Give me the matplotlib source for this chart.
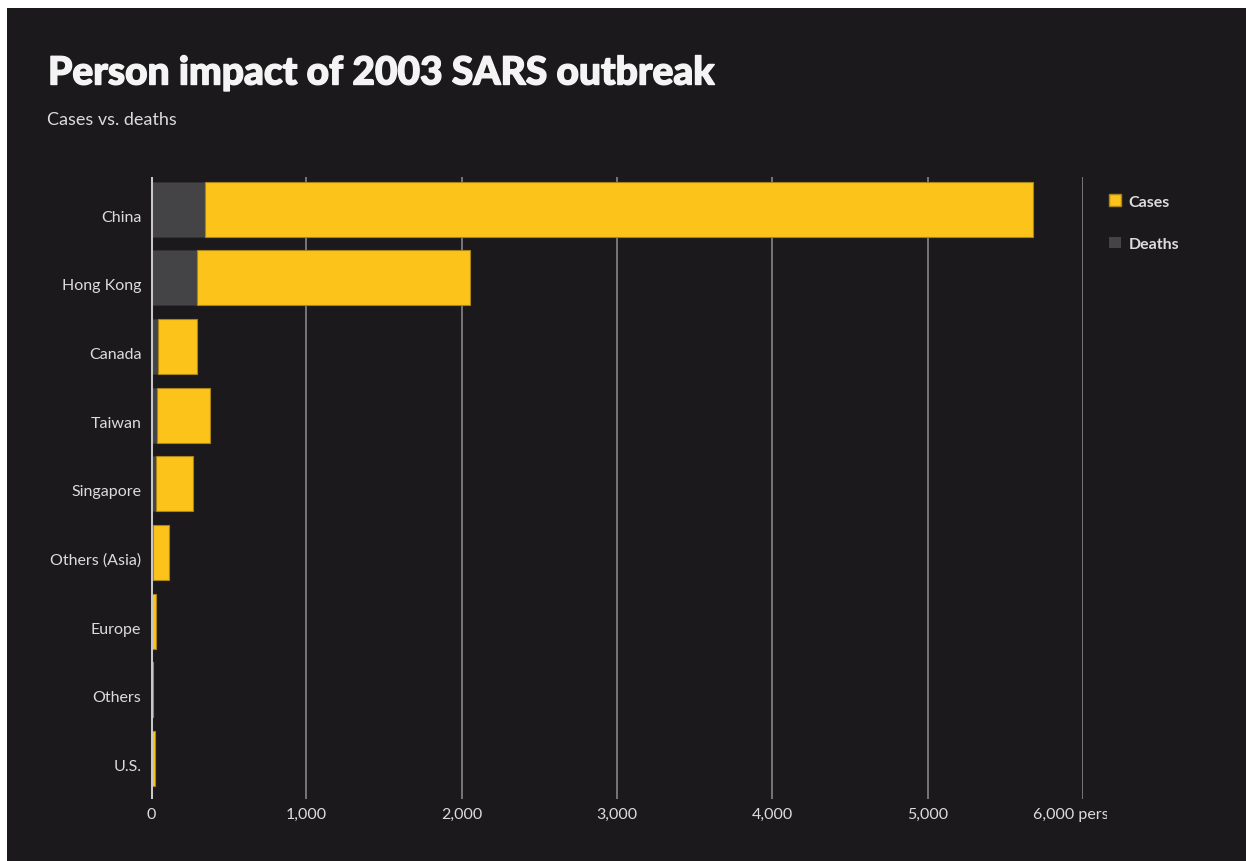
import matplotlib
matplotlib.use("Agg")
import matplotlib.pyplot as plt
import matplotlib.patheffects as pe
from matplotlib.patches import Rectangle, Patch
from matplotlib.transforms import Bbox, TransformedBbox, ScaledTranslation
import numpy as np

# SARS 2003, cumulative figures per region
regioes = ["China", "Hong Kong", "Canada", "Taiwan", "Singapore",
           "Others (Asia)", "Europe", "Others", "U.S."]
casos = [5327, 1755, 251, 346, 238, 106, 33, 9, 27]
mortes = [349, 299, 43, 37, 33, 10, 1, 1, 0]
ticks_x = [0, 1000, 2000, 3000, 4000, 5000, 6000]
rotulos_x = ["0", "1,000", "2,000", "3,000", "4,000", "5,000", "6,000 persons"]

fundo = "#1b191c"
amarelo = "#fcc31b"
cinza_mortes = "#444446"
texto = "#dcdcdc"

plt.rcParams["font.family"] = ["Lato", "DejaVu Sans"]

fig = plt.figure(figsize=(12.46, 8.62), dpi=100)
fig.patch.set_facecolor("white")
# dark card behind everything
fig.add_artist(Rectangle((7 / 1246, 0), 1 - 7 / 1246, 1 - 9 / 862,
                         transform=fig.transFigure, facecolor=fundo,
                         edgecolor="none", zorder=-10))

ax = fig.add_axes([151 / 1246, 1 - 800 / 862, 932 / 1246, 622 / 862])
ax.set_facecolor(fundo)

y = np.arange(len(regioes))
ax.barh(y, mortes, height=0.8, color=cinza_mortes, edgecolor="#333335",
        linewidth=0.6, zorder=3)
ax.barh(y, casos, left=mortes, height=0.8, color=amarelo, edgecolor="#a8841a",
        linewidth=0.8, zorder=3)

ax.set_xlim(0, 6000)
ax.set_ylim(len(regioes) - 0.41, -0.47)

for v in ticks_x[1:]:
    ax.axvline(v, color="#7d7d7f", linewidth=1.3, zorder=1)
ax.axvline(0, color="#c8c8c8", linewidth=2.2, zorder=4)

for s in ax.spines.values():
    s.set_visible(False)

ax.set_yticks(y)
ax.set_yticklabels(regioes, fontsize=11.5, color=texto)
ax.set_xticks(ticks_x)
ax.set_xticklabels(rotulos_x, fontsize=11.5, color=texto)
ax.tick_params(axis="both", length=0)
ax.tick_params(axis="y", pad=7)
ax.tick_params(axis="x", pad=6)

# category names sit a little under the bar centre
desce = ScaledTranslation(0, -6 / 100, fig.dpi_scale_trans)
for lbl in ax.get_yticklabels():
    lbl.set_transform(lbl.get_transform() + desce)

# the unit label runs off the right edge of the plot area
corte = TransformedBbox(Bbox([[0, 0], [1107 / 1246, 1]]), fig.transFigure)
for lbl in ax.get_xticklabels():
    lbl.set_clip_box(corte)
    lbl.set_clip_on(True)

titulo = fig.text(48 / 1246, 1 - 74 / 862, "Person impact of 2003 SARS outbreak",
                  fontsize=28, fontweight="black", color="#f4f4f4", va="center")
titulo.set_path_effects([pe.withStroke(linewidth=1.0, foreground="#f4f4f4")])
fig.text(47 / 1246, 1 - 120 / 862, "Cases vs. deaths",
         fontsize=13, color=texto, va="center")

handles = [Patch(facecolor=amarelo, edgecolor="#a8841a", label="Cases"),
           Patch(facecolor=cinza_mortes, edgecolor="none", label="Deaths")]
leg = fig.legend(handles=handles, loc="upper left",
                 bbox_to_anchor=(1095 / 1246, 1 - 181 / 862),
                 frameon=False, handlelength=0.75, handleheight=0.75,
                 handletextpad=0.45, labelspacing=1.75, fontsize=11.5)
for t in leg.get_texts():
    t.set_color(texto)
    t.set_fontweight("bold")

fig.savefig("out.png", dpi=100, facecolor=fig.get_facecolor())
